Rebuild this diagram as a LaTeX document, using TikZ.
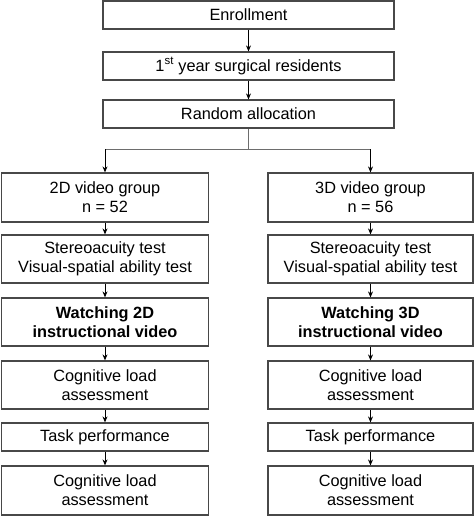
\documentclass[tikz,border=0pt]{standalone}
\usepackage{fontspec}
\setmainfont{Liberation Sans}
\usetikzlibrary{arrows.meta}
\definecolor{boxline}{HTML}{484848}
\begin{document}
\begin{tikzpicture}[x=1pt,y=-1pt,
  box/.style={draw=boxline,line width=1.2pt,inner sep=0pt,align=center,
    font=\fontsize{16.3}{19}\selectfont,text=black},
  topbox/.style={box,minimum width=291pt,minimum height=28pt},
  lbox/.style={box,minimum width=207pt},
  rbox/.style={box,minimum width=205pt},
  arr/.style={draw=black,line width=0.9pt,-{Stealth[length=6pt,width=5pt]}},
  splitline/.style={draw=boxline!80,line width=0.9pt}]
\useasboundingbox (0,0) rectangle (474,516);
% top column
\node[topbox] (enr) at (248.5,15) {Enrollment};
\node[topbox] (res) at (248.5,66) {1\textsuperscript{st} year surgical residents};
\node[topbox] (ran) at (248.5,114) {Random allocation};
% left column
\node[lbox,minimum height=49pt] (l1) at (105,197.5) {2D video group\\n = 52};
\node[lbox,minimum height=48pt] (l2) at (105,259) {Stereoacuity test\\Visual-spatial ability test};
\node[lbox,minimum height=48pt] (l3) at (105,322) {\textbf{Watching 2D}\\\textbf{instructional video}};
\node[lbox,minimum height=48pt] (l4) at (105,385) {Cognitive load\\assessment};
\node[lbox,minimum height=28pt] (l5) at (105,437) {Task performance};
\node[lbox,minimum height=49pt] (l6) at (105,490.5) {Cognitive load\\assessment};
% right column
\node[rbox,minimum height=49pt] (r1) at (370.5,197.5) {3D video group\\n = 56};
\node[rbox,minimum height=48pt] (r2) at (370.5,259) {Stereoacuity test\\Visual-spatial ability test};
\node[rbox,minimum height=48pt] (r3) at (370.5,322) {\textbf{Watching 3D}\\\textbf{instructional video}};
\node[rbox,minimum height=48pt] (r4) at (370.5,385) {Cognitive load\\assessment};
\node[rbox,minimum height=28pt] (r5) at (370.5,437) {Task performance};
\node[rbox,minimum height=49pt] (r6) at (370.5,490.5) {Cognitive load\\assessment};
% connectors
\draw[arr] (enr) -- (res);
\draw[arr] (res) -- (ran);
\coordinate (sm) at (248.5,149);
\coordinate (sl) at (105,149);
\coordinate (sr) at (370.5,149);
\draw[splitline] (ran.south) -- (sm);
\draw[splitline] (sl) -- (sr);
\draw[arr] (sl) -- (l1.north);
\draw[arr] (sr) -- (r1.north);
\foreach \a/\b in {l1/l2,l2/l3,l3/l4,l4/l5,l5/l6,r1/r2,r2/r3,r3/r4,r4/r5,r5/r6}
  \draw[arr] (\a) -- (\b);
\end{tikzpicture}
\end{document}
